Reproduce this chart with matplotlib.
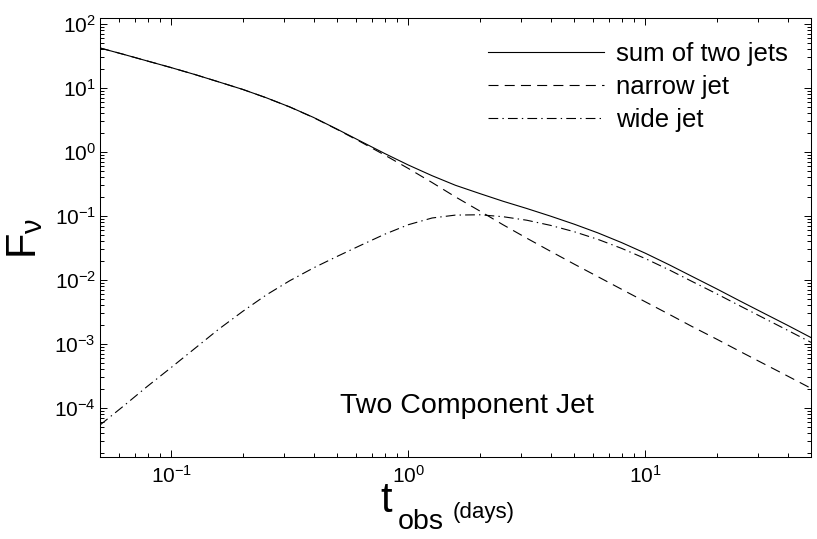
import matplotlib
matplotlib.use('Agg')
import matplotlib.pyplot as plt
from matplotlib.ticker import FixedLocator, LogFormatterSciNotation, NullFormatter

plt.rcParams['font.family'] = ['Liberation Sans', 'DejaVu Sans']
plt.rcParams['mathtext.fontset'] = 'custom'
plt.rcParams['mathtext.rm'] = 'Liberation Sans'
plt.rcParams['mathtext.it'] = 'Liberation Sans'
plt.rcParams['mathtext.default'] = 'regular'

# values (days, flux)
t_days = [0.05, 0.063, 0.079, 0.1, 0.126, 0.158, 0.2, 0.251, 0.316, 0.398, 0.501, 0.631,
          0.794, 1.0, 1.26, 1.58, 2.0, 2.51, 3.16, 3.98, 5.01, 6.31, 7.94, 10.0, 12.6,
          15.8, 20.0, 25.1, 31.6, 39.8, 50.0]
narrow_jet = [42.2, 33.5, 26.5, 20.8, 16.2, 12.5, 9.51, 7.05, 5.05, 3.45, 2.25, 1.43,
              0.897, 0.553, 0.333, 0.199, 0.120, 0.0729, 0.0450, 0.0281, 0.0177, 0.01125,
              7.16e-3, 4.56e-3, 2.91e-3, 1.86e-3, 1.19e-3, 7.64e-4, 4.91e-4, 3.16e-4, 2.03e-4]
wide_jet = [5.42e-5, 1.08e-4, 2.16e-4, 4.31e-4, 8.59e-4, 1.69e-3, 3.23e-3, 5.81e-3, 9.75e-3,
            0.01545, 0.0234, 0.0350, 0.0518, 0.0731, 0.0931, 0.1033, 0.1045, 0.0975, 0.0859,
            0.0714, 0.0568, 0.0431, 0.0312, 0.0216, 0.0144, 9.42e-3, 6.08e-3, 3.93e-3,
            2.54e-3, 1.64e-3, 1.06e-3]
sum_jets = [42.2, 33.5, 26.5, 20.8, 16.2, 12.5, 9.51, 7.06, 5.06, 3.47, 2.27, 1.465,
            0.949, 0.626, 0.426, 0.302, 0.2245, 0.170, 0.131, 0.0995, 0.0745, 0.0544,
            0.0384, 0.0262, 0.0173, 0.0113, 7.27e-3, 4.69e-3, 3.03e-3, 1.96e-3, 1.26e-3]

labels = ['sum of two jets', 'narrow jet', 'wide jet']

x_major = [0.1, 1.0, 10.0]
y_major = [1e-4, 1e-3, 1e-2, 1e-1, 1e0, 1e1, 1e2]

xlim = (0.05, 50)
ylim = (10 ** -4.766, 10 ** 2.094)


def minor_ticks(lo, hi):
    out = []
    for e in range(-6, 4):
        for k in range(2, 10):
            v = k * 10.0 ** e
            if lo <= v <= hi:
                out.append(v)
    return out


fig = plt.figure(figsize=(8.17, 5.39), dpi=100)
ax = fig.add_axes((100 / 817, 82 / 539, 711 / 817, 439 / 539))

lw = 0.8
ax.plot(t_days, sum_jets, color='black', lw=lw, label=labels[0])
ax.plot(t_days, narrow_jet, color='black', lw=lw, linestyle=(0, (9, 5.6)), label=labels[1])
ax.plot(t_days, wide_jet, color='black', lw=lw, linestyle=(0, (8.75, 3.75, 1.25, 3.75)), label=labels[2])

ax.set_xscale('log')
ax.set_yscale('log')
ax.set_xlim(*xlim)
ax.set_ylim(*ylim)

ax.xaxis.set_major_locator(FixedLocator(x_major))
ax.yaxis.set_major_locator(FixedLocator(y_major))
ax.xaxis.set_minor_locator(FixedLocator(minor_ticks(*xlim)))
ax.yaxis.set_minor_locator(FixedLocator(minor_ticks(*ylim)))
for a in (ax.xaxis, ax.yaxis):
    a.set_major_formatter(LogFormatterSciNotation())
    a.set_minor_formatter(NullFormatter())

ax.tick_params(which='both', direction='in', top=True, right=True, width=0.7)
ax.tick_params(which='major', length=5, labelsize=15)
ax.tick_params(which='minor', length=2.8)
ax.tick_params(axis='x', pad=6)
ax.tick_params(axis='y', pad=3)
for sp in ax.spines.values():
    sp.set_linewidth(0.75)

# y label (rotated, subscript nu)
fig.text(25 / 817, 1 - 238 / 539, r'$F_{\nu}$', rotation=90, fontsize=30,
         ha='center', va='center')

# x label: t with subscript obs and raised (days)
fig.text(380 / 817, 1 - 512 / 539, 't', fontsize=30, ha='left', va='baseline')
fig.text(398 / 817, 1 - 529 / 539, 'obs', fontsize=20.5, ha='left', va='baseline')
fig.text(453 / 817, 1 - 518 / 539, '(days)', fontsize=16, ha='left', va='baseline')

ax.text(0.516, 0.100, 'Two Component Jet', transform=ax.transAxes, fontsize=20.5,
        ha='center', va='baseline')

ax.legend(loc='upper right', bbox_to_anchor=(0.9677, 0.9456), frameon=False, fontsize=18.5,
          handlelength=4.5, handletextpad=0.47, labelspacing=0.36, borderpad=0, borderaxespad=0)

fig.savefig('out.png', dpi=100)
